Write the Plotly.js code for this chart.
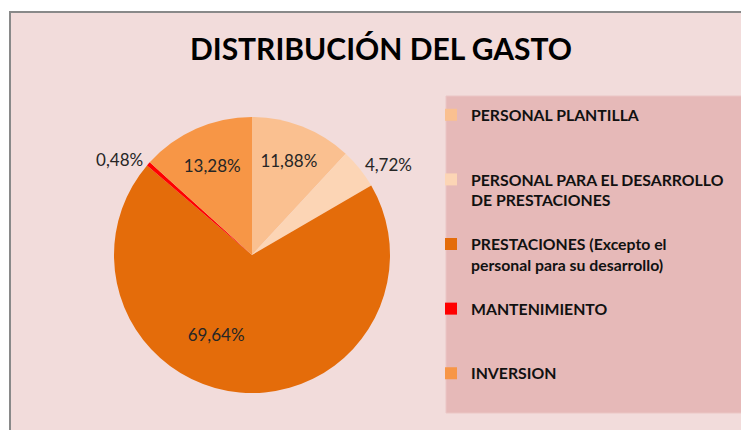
<!DOCTYPE html>
<html>
<head>
<meta charset="utf-8">
<script src="https://cdn.plot.ly/plotly-3.0.1.min.js"></script>
<style>html,body{margin:0;padding:0;background:#fff;}#chart{width:741px;height:430px;}</style>
</head>
<body>
<div id="chart"></div>
<script>
const chartTitle = "DISTRIBUCIÓN DEL GASTO";
const categories = [
  "PERSONAL PLANTILLA",
  "PERSONAL PARA EL DESARROLLO<br>DE PRESTACIONES",
  "PRESTACIONES (Excepto el<br>personal para su desarrollo)",
  "MANTENIMIENTO",
  "INVERSION"
];
const values = [11.88, 4.72, 69.64, 0.48, 13.28];
const colors = ["#FAC090", "#FCD5B5", "#E46C0A", "#FF0000", "#F79646"];
const labelPositions = ["inside", "outside", "inside", "outside", "inside"];

// pad legend entries (except the last) to equal line count so the legend spacing is even
const legendLabels = categories.map((c, idx) => {
  if (idx === categories.length - 1) return c;
  const n = c.split("<br>").length;
  let s = c;
  for (let i = n; i < 3; i++) s += "<br>&nbsp;";
  return s;
});

// label template; the big slice's label is nudged toward where the reference puts it
const pct = "%{percent:.2%}";
const textTemplates = values.map((v, i) =>
  i === 2 ? "&nbsp;<br>" + pct + "\u2002".repeat(7) : pct);

const W = 741, H = 430;
const cx = 252, cy = 255, r = 138;

const trace = {
  type: "pie",
  labels: legendLabels,
  values: values,
  sort: false,
  direction: "clockwise",
  rotation: 0,
  marker: {colors: colors, line: {width: 0}},
  textposition: labelPositions,
  texttemplate: textTemplates,
  insidetextorientation: "horizontal",
  textfont: {family: "Lato, sans-serif", size: 17, color: "#262626"},
  outsidetextfont: {family: "Lato, sans-serif", size: 17, color: "#262626"},
  hoverinfo: "label+percent",
  domain: {
    x: [(cx - r) / W, (cx + r) / W],
    y: [(H - cy - r) / H, (H - cy + r) / H]
  },
  showlegend: true
};

const layout = {
  width: W, height: H,
  margin: {l: 0, r: 0, t: 0, b: 0},
  paper_bgcolor: "#ffffff",
  separators: ",.",
  title: {
    text: chartTitle,
    font: {family: "Lato, sans-serif", size: 30, color: "#000000", weight: "bold"},
    x: 381 / W, xanchor: "center", xref: "paper",
    y: 1 - 49 / H, yanchor: "middle", yref: "container"
  },
  shapes: [
    {type: "rect", xref: "paper", yref: "paper", layer: "below",
     x0: 10 / W, x1: 1.02, y0: -0.02, y1: 1 - 12 / H,
     fillcolor: "#F2DCDB", line: {color: "#898989", width: 2}},
    {type: "rect", xref: "paper", yref: "paper", layer: "below",
     x0: 446 / W, x1: 1.02, y0: 1 - 413 / H, y1: 1 - 96 / H,
     fillcolor: "#E6B9B8", line: {color: "#EBC6C5", width: 1}}
  ],
  legend: {
    x: 431 / W, xanchor: "left",
    y: 1 - 98 / H, yanchor: "top",
    bgcolor: "rgba(0,0,0,0)",
    valign: "top",
    font: {family: "Lato, sans-serif", size: 15.8, color: "#111111", weight: "bold"},
    itemclick: false
  }
};

Plotly.newPlot("chart", [trace], layout, {displayModeBar: false, staticPlot: true});
</script>
</body>
</html>
